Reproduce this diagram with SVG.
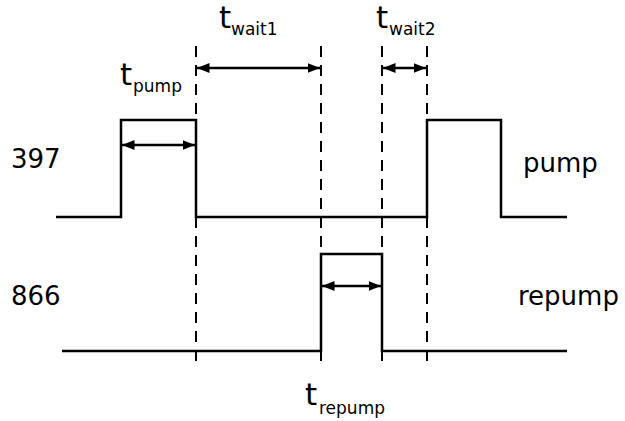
<svg xmlns="http://www.w3.org/2000/svg" width="625" height="421" viewBox="0 0 625 421">
<defs>
<marker id="ah" viewBox="0 0 10 10" refX="10" refY="5" markerWidth="5" markerHeight="5" orient="auto-start-reverse"><path d="M0,1 L10,5 L0,9 Z" fill="#000"/></marker>
<style>
.sig{fill:none;stroke:#000;stroke-width:2.5}
.dash{fill:none;stroke:#000;stroke-width:2;stroke-dasharray:11,8}
.arr{fill:none;stroke:#000;stroke-width:2.5;marker-start:url(#ah);marker-end:url(#ah)}
text{font-family:"DejaVu Sans",sans-serif;fill:#000}
.lbl{font-size:26px}
.t{font-size:31px}
.sub{font-size:17px}
</style>
</defs>
<g id="grid">
<line class="dash" x1="196" y1="46" x2="196" y2="368"/>
<line class="dash" x1="321" y1="46" x2="321" y2="368"/>
<line class="dash" x1="382" y1="46" x2="382" y2="368"/>
<line class="dash" x1="427" y1="46" x2="427" y2="368"/>
</g>
<g id="pump-signal">
<polyline class="sig" points="56,217 121,217 121,120 196,120 196,217 427,217 427,120 501,120 501,217 567,217"/>
</g>
<g id="repump-signal">
<polyline class="sig" points="62,351 321,351 321,254 382,254 382,351 567,351"/>
</g>
<g id="connectors">
<line class="arr" x1="122" y1="145" x2="195" y2="145"/>
<line class="arr" x1="197" y1="68" x2="320" y2="68"/>
<line class="arr" x1="383" y1="68" x2="426" y2="68"/>
<line class="arr" x1="322" y1="286" x2="381" y2="286"/>
</g>
<g id="labels">
<text class="lbl" x="11" y="168">397</text>
<text class="lbl" x="523" y="172">pump</text>
<text class="lbl" x="11" y="305">866</text>
<text class="lbl" x="518" y="305">repump</text>
</g>
<g id="t-pump"><text class="t" x="120" y="85">t</text><text class="sub" x="133" y="92">pump</text></g>
<g id="t-wait1"><text class="t" x="219" y="28">t</text><text class="sub" x="231" y="35">wait1</text></g>
<g id="t-wait2"><text class="t" x="376" y="28">t</text><text class="sub" x="389" y="35">wait2</text></g>
<g id="t-repump"><text class="t" x="305" y="405">t</text><text class="sub" x="319" y="414">repump</text></g>
</svg>
